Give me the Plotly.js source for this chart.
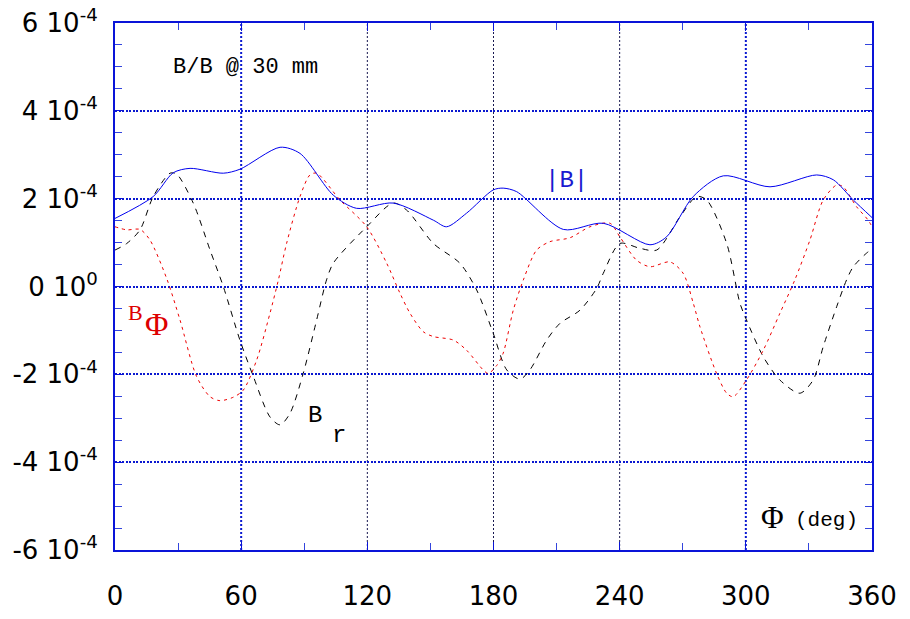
<!DOCTYPE html>
<html>
<head>
<meta charset="utf-8">
<script src="https://cdn.plot.ly/plotly-3.0.1.min.js"></script>
<style>html,body{margin:0;padding:0;background:#fff;}#chart{width:910px;height:619px;}</style>
</head>
<body>
<div id="chart"></div>
<script>
// |B| (solid blue), values in units of 1e-4
const babsPhi = [0, 18.2, 27.7, 35.7, 51.5, 59.4, 78.5, 88, 103.8, 114.9, 132.3, 151.4, 157.7, 167.2, 179.9, 184.6, 191, 213.2, 232.2, 254.4, 262.3, 275, 289.3, 311.5, 333.7, 341.6, 351.1, 360];
const babsVal = [1.55, 2.05, 2.59, 2.69, 2.58, 2.67, 3.17, 3.03, 2.08, 1.78, 1.90, 1.51, 1.36, 1.67, 2.20, 2.24, 2.16, 1.30, 1.44, 0.95, 1.13, 2.05, 2.52, 2.27, 2.54, 2.43, 1.97, 1.57];

// B_r (black dashed)
const brPhi = [0, 5.6, 11.9, 18.2, 26.2, 29.3, 37.2, 45.2, 51.5, 59.4, 65.8, 73.7, 78.5, 83.2, 89.5, 95.9, 100.6, 103.8, 119.7, 132.3, 138.7, 151.4, 164, 172, 179.9, 186.3, 192.6, 197.3, 205.3, 211.6, 221.1, 229.1, 232.2, 240.1, 249.6, 257.6, 268.7, 276.6, 281.4, 290.9, 297.2, 300.3, 308.3, 316.2, 325.7, 332, 336.8, 343.2, 347.9, 351.1, 358.2, 360];
const brVal = [0.83, 0.98, 1.29, 2.05, 2.58, 2.56, 1.90, 0.83, 0.0, -1.22, -2.05, -2.97, -3.15, -2.89, -1.98, -0.76, 0.15, 0.53, 1.36, 1.90, 1.74, 0.98, 0.53, -0.08, -1.07, -1.90, -2.11, -1.90, -1.22, -0.84, -0.54, -0.04, 0.30, 0.98, 0.87, 0.83, 1.59, 2.05, 1.97, 0.98, -0.38, -0.76, -1.60, -2.13, -2.43, -2.13, -1.37, -0.46, 0.15, 0.45, 0.79, 0.83];

// B_Phi (red dotted)
const bphPhi = [0, 5.6, 11.9, 16.6, 24.6, 30.9, 38.8, 45.2, 49.9, 56.3, 61, 67.4, 73.7, 77.7, 81.6, 88, 92.7, 95.9, 107, 119.7, 129.2, 135.5, 140.3, 146.6, 151.4, 160.9, 167.2, 175.1, 177.5, 181.5, 184.6, 189.4, 194.2, 200.5, 206.8, 216.4, 225.9, 235.4, 240.1, 248, 254.4, 263.9, 270.2, 275, 278.2, 286.1, 290.9, 294, 300.3, 308.3, 316.2, 323.3, 330.5, 336.8, 343.2, 346.3, 352.6, 358.2, 360];
const bphVal = [1.36, 1.29, 1.30, 1.06, 0.18, -0.76, -2.05, -2.51, -2.60, -2.52, -2.36, -1.67, -0.61, 0.15, 0.98, 2.05, 2.54, 2.58, 1.97, 1.36, 0.53, -0.15, -0.61, -1.03, -1.14, -1.22, -1.45, -1.90, -1.98, -1.80, -1.52, -0.54, 0.15, 0.83, 1.02, 1.11, 1.36, 1.44, 1.13, 0.60, 0.45, 0.56, 0.30, -0.38, -0.92, -1.98, -2.43, -2.51, -2.13, -1.45, -0.61, 0.15, 1.06, 1.97, 2.31, 2.27, 1.82, 1.51, 1.36];

const xTicks = [0, 60, 120, 180, 240, 300, 360];
const xTickText = ['0', '60', '120', '180', '240', '300', '360'];
const yTicks = [-6e-4, -4e-4, -2e-4, 0, 2e-4, 4e-4, 6e-4];
const yTickText = ['-6 10<sup>-4</sup>', '-4 10<sup>-4</sup>', '-2 10<sup>-4</sup>', '0 10<sup>0</sup>', '2 10<sup>-4</sup>', '4 10<sup>-4</sup>', '6 10<sup>-4</sup>'];
const vGrid = [60, 120, 180, 240, 300];
const vGridColor = ['#0a18d0', '#181850', '#181850', '#181850', '#0a18d0'];
const vGridWidth = [2, 1, 1, 1, 2];

const scale = v => v.map(a => a * 1e-4);

const traces = [
  {x: brPhi, y: scale(brVal), mode: 'lines', line: {color: '#000000', width: 1, dash: '6px,6px', shape: 'spline', smoothing: 0.8}},
  {x: bphPhi, y: scale(bphVal), mode: 'lines', line: {color: '#ee0000', width: 1, dash: '3px,4px', shape: 'spline', smoothing: 0.8}},
  {x: babsPhi, y: scale(babsVal), mode: 'lines', line: {color: '#0000ee', width: 1, shape: 'spline', smoothing: 0.8}}
];

const axisColor = '#0a14d8';
const shapes = vGrid.map((g, i) => ({
  type: 'line', xref: 'x', yref: 'paper', x0: g, x1: g, y0: 0, y1: 1,
  line: {color: vGridColor[i], width: vGridWidth[i], dash: '2px,2px'}, layer: 'below'
}));

const annotations = [
  {text: 'B/B @ 30 mm', x: 245, y: 67, font: {family: 'Liberation Mono, monospace', size: 22, color: '#000'}},
  {text: '|B|', x: 566, y: 180, font: {family: 'Liberation Mono, monospace', size: 24, color: '#1a1ad0'}},
  {text: 'B', x: 135, y: 312, font: {family: 'Liberation Serif, serif', size: 22, color: '#dd0000'}},
  {text: 'Φ', x: 156, y: 324, font: {family: 'Liberation Serif, serif', size: 32, color: '#dd0000'}},
  {text: 'B', x: 315, y: 415, font: {family: 'Liberation Mono, monospace', size: 24, color: '#000'}},
  {text: 'r', x: 339, y: 435, font: {family: 'Liberation Mono, monospace', size: 24, color: '#000'}},
  {text: 'Φ', x: 772, y: 517, font: {family: 'Liberation Serif, serif', size: 31, color: '#000'}},
  {text: '(deg)', x: 826, y: 520, font: {family: 'Liberation Mono, monospace', size: 21, color: '#000'}}
].map(a => Object.assign({xref: 'paper', yref: 'paper', showarrow: false, xanchor: 'center', yanchor: 'middle'}, a,
  {x: (a.x - 115) / 757, y: (550 - a.y) / 527}));

const layout = {
  width: 910, height: 619,
  margin: {l: 115, r: 38, t: 23, b: 69},
  paper_bgcolor: '#ffffff', plot_bgcolor: '#ffffff',
  showlegend: false,
  font: {family: 'DejaVu Sans, sans-serif', size: 27, color: '#000'},
  xaxis: {
    range: [0, 360], tickmode: 'array', tickvals: xTicks, ticktext: xTickText,
    showgrid: false, zeroline: false, showline: true, linecolor: axisColor, linewidth: 2, mirror: 'ticks',
    ticks: 'inside', ticklen: 8, tickcolor: axisColor, tickwidth: 1,
    ticklabelstandoff: 22,
    minor: {tickmode: 'linear', tick0: 30, dtick: 60, ticks: 'inside', ticklen: 7, tickcolor: '#3344dd', tickwidth: 1, showgrid: false},
    tickfont: {family: 'DejaVu Sans, sans-serif', size: 26}
  },
  yaxis: {
    range: [-6e-4, 6e-4], tickmode: 'array', tickvals: yTicks, ticktext: yTickText,
    showgrid: true, gridcolor: '#0a18d0', gridwidth: 2, griddash: '2px,1.5px',
    zeroline: false, showline: true, linecolor: axisColor, linewidth: 2, mirror: 'ticks',
    ticks: 'inside', ticklen: 8, tickcolor: axisColor, tickwidth: 1,
    ticklabelstandoff: 10,
    minor: {tickmode: 'linear', tick0: 0, dtick: 0.5e-4, ticks: 'inside', ticklen: 7, tickcolor: '#3344dd', tickwidth: 1, showgrid: false},
    tickfont: {family: 'DejaVu Sans, sans-serif', size: 26}
  },
  shapes: shapes,
  annotations: annotations
};

Plotly.newPlot('chart', traces, layout, {displayModeBar: false, staticPlot: true});
</script>
</body>
</html>
